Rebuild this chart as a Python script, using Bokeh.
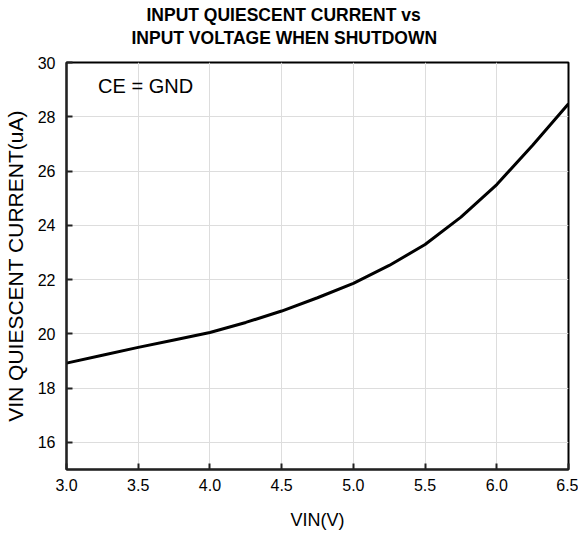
from bokeh.plotting import figure
from bokeh.models import Label, FixedTicker, NumeralTickFormatter, Range1d, Title
from bokeh.embed import file_html
from bokeh.resources import INLINE

vin = [3.0, 3.25, 3.5, 3.75, 4.0, 4.25, 4.5, 4.75, 5.0, 5.25, 5.5, 5.75, 6.0, 6.25, 6.5]
iq = [18.92, 19.21, 19.50, 19.77, 20.05, 20.42, 20.84, 21.33, 21.86, 22.52, 23.29, 24.30, 25.50, 26.95, 28.48]
x_ticks = [3.0, 3.5, 4.0, 4.5, 5.0, 5.5, 6.0, 6.5]
y_ticks = [16, 18, 20, 22, 24, 26, 28, 30]
title_lines = ["INPUT QUIESCENT CURRENT vs", "INPUT VOLTAGE WHEN SHUTDOWN"]
note = "CE = GND"

FONT = "Liberation Sans"

p = figure(width=578, height=532, output_backend="svg", toolbar_location=None,
           x_range=Range1d(3.0, 6.5), y_range=Range1d(15, 30),
           min_border_left=65, min_border_right=10, min_border_top=62, min_border_bottom=61)
p.background_fill_color = "white"
p.border_fill_color = "white"
p.outline_line_color = "black"
p.outline_line_width = 2

p.line(vin, iq, line_color="black", line_width=3, line_join="round")

for ax in (p.xaxis[0], p.yaxis[0]):
    ax.axis_line_color = "#222222"
    ax.axis_line_width = 2
    ax.major_tick_in = 6
    ax.major_tick_out = 0
    ax.major_tick_line_color = "#222222"
    ax.major_tick_line_width = 2
    ax.minor_tick_line_color = None
    ax.major_label_text_font = FONT
    ax.major_label_text_font_size = "16px"
    ax.major_label_text_color = "black"
    ax.axis_label_text_font = FONT
    ax.axis_label_text_font_style = "normal"
    ax.axis_label_text_color = "black"

p.xaxis.ticker = FixedTicker(ticks=x_ticks)
p.xaxis.formatter = NumeralTickFormatter(format="0.0")
p.xaxis.major_label_standoff = 9
p.xaxis.axis_label = "VIN(V)"
p.xaxis.axis_label_text_font_size = "18px"
p.xaxis.axis_label_standoff = 16

p.yaxis.ticker = FixedTicker(ticks=y_ticks)
p.yaxis.major_label_standoff = 11
p.yaxis.axis_label = "VIN QUIESCENT CURRENT(uA)"
p.yaxis.axis_label_text_font_size = "21px"
p.yaxis.axis_label_standoff = 8

p.xgrid.ticker = FixedTicker(ticks=x_ticks)
p.ygrid.ticker = FixedTicker(ticks=y_ticks)
p.grid.grid_line_color = "#dddddd"
p.grid.grid_line_width = 1

p.add_layout(Label(x=3.22, y=29.12, text=note, text_font=FONT, text_font_size="20px",
                   text_color="black", text_baseline="middle", text_align="left"))

p.title = None
p.add_layout(Title(text=title_lines[1], align="left", offset=65, standoff=30,
                   text_font=FONT, text_font_size="17.5px", text_font_style="bold",
                   text_color="black"), "above")
p.add_layout(Title(text=title_lines[0], align="left", offset=80, standoff=-29,
                   text_font=FONT, text_font_size="17.5px", text_font_style="bold",
                   text_color="black"), "above")

open("out.html", "w").write(file_html(p, INLINE))
